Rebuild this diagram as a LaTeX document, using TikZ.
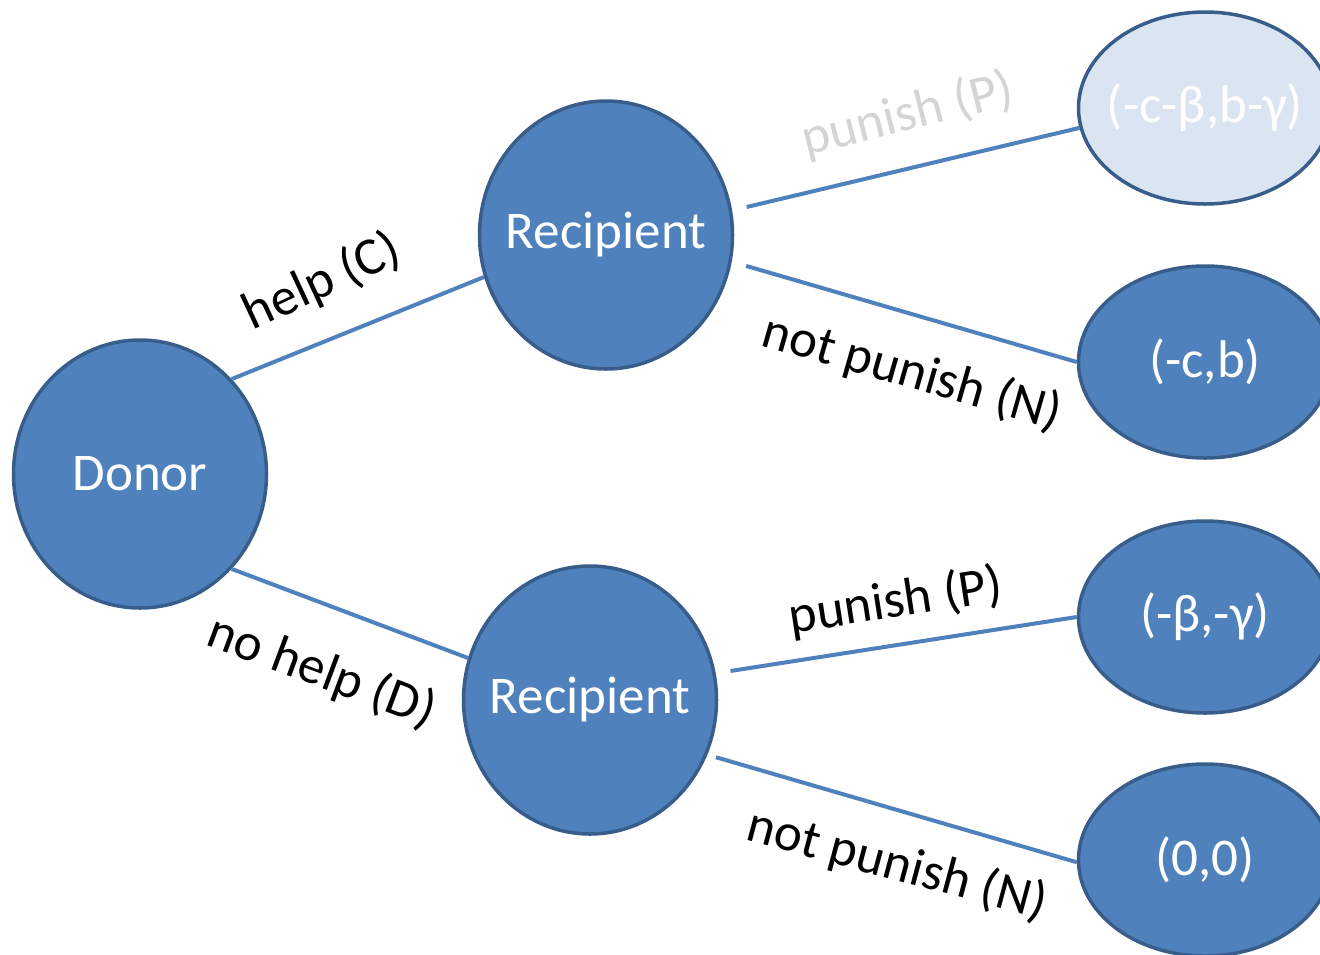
\documentclass[tikz,border=0pt]{standalone}
\usepackage{fontspec}
\setmainfont{Carlito}
\usetikzlibrary{shapes.geometric}
\definecolor{nodeblue}{HTML}{4F81BD}
\definecolor{edgeblue}{HTML}{385D8A}
\definecolor{lightfill}{HTML}{DBE5F1}
\definecolor{lblgray}{HTML}{D4D4D4}
\tikzset{
  nodetext/.style={text=white, font=\fontsize{53}{63}\selectfont, inner sep=0pt},
  player/.style={ellipse, draw=edgeblue, fill=nodeblue, line width=3.5pt, inner sep=0pt,
    minimum width=253pt, minimum height=268pt},
  payoff/.style={ellipse, draw=edgeblue, fill=nodeblue, line width=3.5pt, inner sep=0pt,
    minimum width=253pt, minimum height=192pt},
  conn/.style={draw=nodeblue, line width=4pt},
  lbl/.style={font=\fontsize{53}{63}\selectfont, text=black, inner sep=0pt}
}
\begin{document}
\begin{tikzpicture}[x=1pt,y=-1pt]
\useasboundingbox (0,0) rectangle (1320,954);
\clip (0,0) rectangle (1320,954);
\node[player, label={[nodetext]center:Donor}] (d) at (140,474) {};
\node[player, label={[nodetext]center:Recipient}] (r1) at (606,235) {};
\node[player, label={[nodetext]center:Recipient}] (r2) at (590,700) {};
\node[payoff, fill=lightfill, label={[nodetext]center:(-c-β,b-γ)}] (e1) at (1205,108) {};
\node[payoff, label={[nodetext]center:(-c,b)}] (e2) at (1205,362) {};
\node[payoff, label={[nodetext]center:(-β,-γ)}] (e3) at (1205,617) {};
\node[payoff, label={[nodetext]center:(0,0)}] (e4) at (1205,860) {};
\draw[conn] (d.46) -- (r1.199);
\draw[conn] (d.-46) -- (r2.161);
\draw[conn, shorten <=15pt] (r1.11) -- (e1.189);
\draw[conn, shorten <=15pt] (r1.-12) -- (e2.180);
\draw[conn, shorten <=15pt] (r2.12) -- (e3.180);
\draw[conn, shorten <=9pt] (r2.-25) -- (e4.181);
\node[lbl, rotate=25] (l1) at (322,282) {help (C)};
\node[lbl, rotate=-20.5] (l2) at (322,672) {no help (D)};
\node[lbl, rotate=14, text=lblgray] (l3) at (908,115) {punish (P)};
\node[lbl, rotate=-16] (l4) at (912,373) {not punish (N)};
\node[lbl, rotate=8.8] (l5) at (896,602) {punish (P)};
\node[lbl, rotate=-15] (l6) at (897,865) {not punish (N)};
\end{tikzpicture}
\end{document}
